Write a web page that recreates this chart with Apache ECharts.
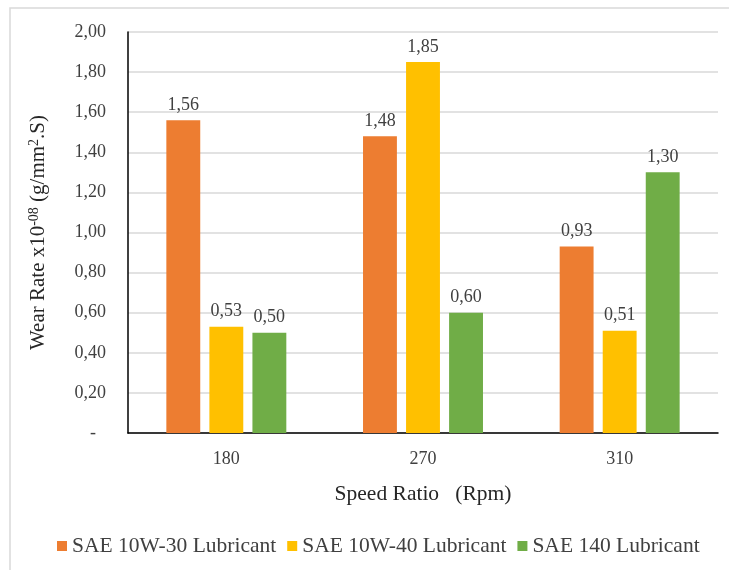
<!DOCTYPE html>
<html>
<head>
<meta charset="utf-8">
<script src="https://cdn.jsdelivr.net/npm/echarts@6/dist/echarts.min.js"></script>
<style>
  html, body { margin: 0; padding: 0; background: #fff; }
  #chart { width: 729px; height: 570px; }
</style>
</head>
<body>
<div id="chart"></div>
<script>
// Wear rate per speed ratio for three lubricants
const categories = ['180', '270', '310'];
const seriesNames = ['SAE 10W-30 Lubricant', 'SAE 10W-40 Lubricant', 'SAE 140 Lubricant'];
const sae10w30 = [1.56, 1.48, 0.93];
const sae10w40 = [0.53, 1.85, 0.51];
const sae140 = [0.50, 0.60, 1.30];
const colors = ['#ED7D31', '#FFC000', '#70AD47'];

const FONT = '"Liberation Serif", "Times New Roman", serif';
const fmt = v => v.toFixed(2).replace('.', ',');

function barSeries(name, data, color) {
  return {
    name: name,
    type: 'bar',
    data: data,
    barGap: '27%',
    barCategoryGap: '39%',
    itemStyle: { color: color },
    label: {
      show: true,
      position: 'top',
      distance: 6,
      color: '#404040',
      fontFamily: FONT,
      fontSize: 18,
      formatter: p => fmt(p.value)
    }
  };
}

const chart = echarts.init(document.getElementById('chart'), null, { renderer: 'canvas' });
chart.setOption({
  backgroundColor: '#ffffff',
  animation: false,
  textStyle: { fontFamily: FONT },
  graphic: [{
    type: 'rect',
    shape: { x: 10, y: 8, width: 760, height: 600 },
    style: { fill: 'none', stroke: '#D9D9D9', lineWidth: 1.5 },
    silent: true,
    z: -1
  }],
  grid: { left: 128, right: 11, top: 32, bottom: 137, containLabel: false },
  legend: {
    data: seriesNames,
    left: 52,
    top: 530,
    icon: 'rect',
    itemWidth: 10,
    itemHeight: 10,
    itemGap: 11,
    textStyle: { fontFamily: FONT, fontSize: 21.5, color: '#404040' }
  },
  xAxis: {
    type: 'category',
    data: categories,
    name: 'Speed Ratio   (Rpm)',
    nameLocation: 'middle',
    nameGap: 50,
    nameTextStyle: { fontFamily: FONT, fontSize: 21.5, color: '#262626' },
    axisLine: { lineStyle: { color: '#000000', width: 1.5 } },
    axisTick: { show: false },
    axisLabel: { margin: 17, fontFamily: FONT, fontSize: 18, color: '#404040' }
  },
  yAxis: {
    type: 'value',
    min: 0,
    max: 2,
    interval: 0.2,
    name: '{a|Wear Rate x10}{s|-08}{a| (g/mm}{s|2}{a|.S)}',
    nameLocation: 'middle',
    nameGap: 78,
    nameTextStyle: {
      rich: {
        a: { fontFamily: FONT, fontSize: 21, color: '#262626', lineHeight: 23 },
        s: { fontFamily: FONT, fontSize: 14, color: '#262626', verticalAlign: 'top', lineHeight: 23 }
      }
    },
    axisLine: { show: true, lineStyle: { color: '#000000', width: 1.5 } },
    axisTick: { show: false },
    splitLine: { lineStyle: { color: '#D9D9D9', width: 1.5 } },
    axisLabel: {
      margin: 22,
      fontFamily: FONT,
      fontSize: 18,
      color: '#404040',
      formatter: v => (v === 0 ? '{d|-}' : fmt(v)),
      rich: { d: { fontFamily: FONT, fontSize: 18, color: '#404040', padding: [0, 10, 0, 0] } }
    }
  },
  series: [
    barSeries(seriesNames[0], sae10w30, colors[0]),
    barSeries(seriesNames[1], sae10w40, colors[1]),
    barSeries(seriesNames[2], sae140, colors[2])
  ]
});
</script>
</body>
</html>
